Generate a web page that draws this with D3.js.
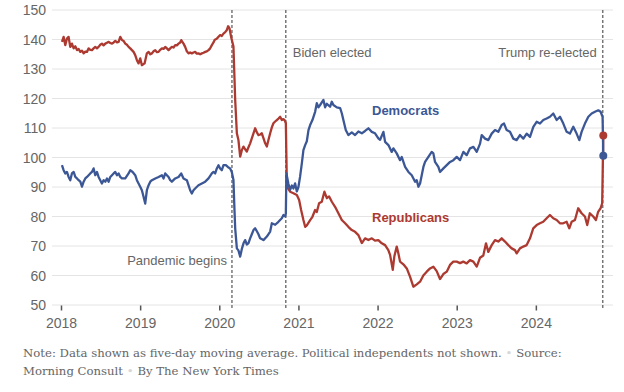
<!DOCTYPE html>
<html>
<head>
<meta charset="utf-8">
<script src="https://cdn.jsdelivr.net/npm/d3@7"></script>
<style>
body { margin: 0; background: #fff; }
</style>
</head>
<body>
<div id="chart"></div>
<script>
// values: [decimal year, index]
const democrats = [
[2018.012,97.4],[2018.033,95.7],[2018.054,94.6],[2018.075,95.1],[2018.096,93.4],[2018.117,92.3],[2018.138,94.6],[2018.160,95.1],
[2018.181,93.4],[2018.202,92.9],[2018.223,92.3],[2018.244,91.8],[2018.265,90.1],[2018.286,91.8],[2018.307,92.9],[2018.328,93.4],
[2018.349,94.0],[2018.370,94.6],[2018.391,95.1],[2018.412,96.3],[2018.433,94.0],[2018.454,95.1],[2018.475,93.4],[2018.496,92.3],
[2018.517,91.2],[2018.538,92.3],[2018.560,91.8],[2018.581,92.9],[2018.602,91.8],[2018.623,93.4],[2018.644,94.0],[2018.665,94.6],
[2018.686,95.1],[2018.707,94.0],[2018.728,94.6],[2018.749,93.4],[2018.770,92.9],[2018.812,92.9],[2018.854,94.6],[2018.875,95.7],
[2018.905,95.1],[2018.938,94.0],[2018.959,92.3],[2018.980,91.2],[2019.001,90.1],[2019.022,88.9],[2019.043,86.7],[2019.064,84.4],
[2019.085,88.9],[2019.107,90.6],[2019.128,91.8],[2019.149,92.3],[2019.191,92.9],[2019.233,93.4],[2019.275,94.0],[2019.296,92.9],
[2019.317,94.6],[2019.359,93.4],[2019.380,92.3],[2019.401,91.8],[2019.443,92.9],[2019.485,93.4],[2019.519,94.6],[2019.548,92.9],
[2019.590,92.3],[2019.611,90.6],[2019.632,88.9],[2019.653,87.8],[2019.674,88.9],[2019.695,89.5],[2019.737,90.6],[2019.780,91.2],
[2019.822,91.8],[2019.864,92.9],[2019.906,94.6],[2019.927,95.1],[2019.948,94.6],[2019.969,96.3],[2019.990,97.4],[2020.011,96.3],
[2020.032,95.7],[2020.053,97.4],[2020.083,97.4],[2020.108,96.8],[2020.137,96.3],[2020.158,95.1],[2020.179,92.4],[2020.192,82.2],
[2020.201,76.0],[2020.222,69.2],[2020.242,68.5],[2020.264,66.4],[2020.285,69.0],[2020.306,70.9],[2020.327,72.0],[2020.348,70.5],
[2020.369,71.0],[2020.390,72.6],[2020.411,74.0],[2020.432,75.4],[2020.453,76.0],[2020.475,75.0],[2020.495,74.0],[2020.516,72.6],
[2020.558,72.0],[2020.601,73.2],[2020.643,74.9],[2020.664,77.7],[2020.706,77.2],[2020.747,78.2],[2020.790,79.4],[2020.811,80.5],
[2020.832,80.0],[2020.841,81.0],[2020.848,94.6],[2020.874,91.0],[2020.895,89.0],[2020.917,90.5],[2020.937,89.5],[2020.958,91.2],
[2020.980,88.5],[2021.000,90.0],[2021.021,93.5],[2021.043,98.0],[2021.063,102.5],[2021.085,104.2],[2021.106,105.5],[2021.127,109.3],
[2021.148,111.0],[2021.177,112.7],[2021.211,115.5],[2021.232,118.4],[2021.253,117.0],[2021.274,117.8],[2021.316,119.5],[2021.337,117.0],
[2021.359,118.2],[2021.400,117.2],[2021.422,118.9],[2021.442,117.8],[2021.485,117.0],[2021.527,116.7],[2021.548,115.0],[2021.568,112.7],
[2021.598,109.3],[2021.631,107.6],[2021.674,108.5],[2021.716,107.6],[2021.758,108.8],[2021.801,108.2],[2021.842,109.0],[2021.884,109.9],
[2021.927,108.7],[2021.968,108.2],[2022.010,106.5],[2022.032,106.0],[2022.074,108.7],[2022.095,105.3],[2022.137,104.2],[2022.179,101.9],
[2022.200,103.1],[2022.242,101.4],[2022.284,99.1],[2022.305,100.2],[2022.348,96.8],[2022.390,95.1],[2022.432,94.0],[2022.453,92.9],
[2022.474,91.8],[2022.495,92.3],[2022.516,90.1],[2022.537,91.2],[2022.558,94.0],[2022.579,96.8],[2022.600,98.5],[2022.642,100.2],
[2022.684,101.9],[2022.705,101.4],[2022.726,98.5],[2022.768,96.8],[2022.789,95.1],[2022.832,96.3],[2022.874,97.4],[2022.916,98.5],
[2022.958,99.1],[2023.000,100.2],[2023.042,99.1],[2023.084,101.9],[2023.126,100.8],[2023.168,103.1],[2023.211,103.6],[2023.253,101.9],
[2023.295,104.7],[2023.316,107.6],[2023.358,106.4],[2023.400,105.9],[2023.442,108.1],[2023.484,109.3],[2023.526,108.7],[2023.568,111.0],
[2023.598,111.5],[2023.631,109.3],[2023.673,108.7],[2023.715,106.4],[2023.757,105.9],[2023.799,107.6],[2023.842,106.4],[2023.884,108.1],
[2023.926,107.0],[2023.968,110.4],[2024.010,112.1],[2024.052,111.5],[2024.094,112.7],[2024.136,113.2],[2024.178,113.8],[2024.220,114.9],
[2024.263,112.7],[2024.305,113.8],[2024.347,111.5],[2024.389,108.7],[2024.431,108.1],[2024.473,110.4],[2024.515,108.1],[2024.549,105.9],
[2024.578,108.7],[2024.620,111.5],[2024.663,113.8],[2024.705,114.9],[2024.747,115.5],[2024.789,116.0],[2024.818,115.5],[2024.843,113.8],
[2024.852,100.6]
]

const republicans = [
[2018.012,139.2],[2018.033,140.9],[2018.054,138.1],[2018.075,140.3],[2018.096,140.9],[2018.117,137.5],[2018.138,138.6],[2018.160,137.0],
[2018.181,137.7],[2018.202,136.4],[2018.223,136.8],[2018.244,135.8],[2018.265,136.2],[2018.286,135.3],[2018.307,135.9],[2018.328,135.8],
[2018.349,137.0],[2018.370,136.5],[2018.391,136.4],[2018.412,137.0],[2018.433,137.5],[2018.454,137.0],[2018.475,137.5],[2018.496,138.2],
[2018.517,138.6],[2018.538,138.0],[2018.560,138.6],[2018.581,138.9],[2018.602,139.2],[2018.623,138.8],[2018.644,138.6],[2018.665,139.0],
[2018.686,139.5],[2018.707,139.0],[2018.728,139.2],[2018.749,140.9],[2018.770,139.8],[2018.791,139.5],[2018.812,138.6],[2018.833,138.2],
[2018.854,137.5],[2018.875,137.0],[2018.896,136.4],[2018.917,135.8],[2018.938,134.7],[2018.959,133.0],[2018.980,131.9],[2019.001,133.6],
[2019.022,131.3],[2019.056,131.9],[2019.085,135.3],[2019.107,135.8],[2019.128,135.0],[2019.149,135.3],[2019.170,136.0],[2019.191,136.4],
[2019.212,135.7],[2019.233,135.8],[2019.254,136.5],[2019.275,137.0],[2019.296,136.8],[2019.317,137.5],[2019.338,137.0],[2019.359,136.4],
[2019.380,137.0],[2019.401,137.5],[2019.422,137.3],[2019.443,138.1],[2019.464,138.0],[2019.485,138.6],[2019.506,139.0],[2019.519,139.8],
[2019.548,138.6],[2019.569,137.5],[2019.590,136.0],[2019.611,135.3],[2019.632,135.6],[2019.653,135.3],[2019.674,135.6],[2019.695,135.8],
[2019.716,135.2],[2019.737,135.3],[2019.758,135.0],[2019.780,135.3],[2019.801,135.5],[2019.822,135.8],[2019.843,136.0],[2019.864,136.4],
[2019.885,137.0],[2019.906,138.1],[2019.927,139.0],[2019.940,139.8],[2019.969,140.3],[2020.011,141.5],[2020.032,141.2],[2020.053,142.0],
[2020.075,142.5],[2020.095,143.2],[2020.112,144.5],[2020.129,143.8],[2020.150,140.8],[2020.159,139.8],[2020.179,137.6],[2020.201,119.5],
[2020.222,108.2],[2020.242,105.9],[2020.264,100.3],[2020.285,102.5],[2020.306,103.7],[2020.327,102.8],[2020.348,102.0],[2020.369,103.5],
[2020.390,104.8],[2020.411,106.5],[2020.432,108.2],[2020.453,109.9],[2020.475,108.5],[2020.495,107.6],[2020.517,107.8],[2020.538,108.2],
[2020.559,106.5],[2020.580,104.8],[2020.601,103.7],[2020.621,105.9],[2020.643,108.2],[2020.664,110.2],[2020.684,111.6],[2020.706,112.2],
[2020.727,112.7],[2020.748,113.2],[2020.769,113.8],[2020.790,112.7],[2020.811,113.0],[2020.825,112.7],[2020.841,111.6],[2020.848,100.3],
[2020.854,90.1],[2020.895,88.4],[2020.937,87.9],[2020.980,87.3],[2021.009,85.6],[2021.034,82.2],[2021.063,78.8],[2021.085,76.5],
[2021.106,77.0],[2021.148,78.8],[2021.177,79.9],[2021.211,82.2],[2021.232,81.5],[2021.261,84.5],[2021.295,85.0],[2021.328,88.4],
[2021.359,86.2],[2021.388,86.8],[2021.422,85.0],[2021.463,83.3],[2021.505,81.1],[2021.548,78.8],[2021.590,77.7],[2021.631,76.5],
[2021.674,75.4],[2021.716,74.8],[2021.758,73.7],[2021.801,71.0],[2021.842,72.6],[2021.884,72.0],[2021.927,72.6],[2021.968,71.8],
[2022.010,72.0],[2022.053,70.9],[2022.095,70.3],[2022.136,68.6],[2022.158,67.0],[2022.192,61.9],[2022.212,66.5],[2022.242,69.8],
[2022.263,67.5],[2022.284,64.7],[2022.326,63.8],[2022.369,62.4],[2022.410,59.6],[2022.452,56.2],[2022.495,57.0],[2022.537,57.9],
[2022.578,60.0],[2022.621,61.3],[2022.663,62.4],[2022.705,63.0],[2022.747,61.5],[2022.789,58.8],[2022.831,60.5],[2022.874,61.3],
[2022.915,63.6],[2022.957,64.7],[2023.000,64.7],[2023.042,64.2],[2023.083,64.7],[2023.126,64.1],[2023.168,65.2],[2023.210,64.7],
[2023.253,63.0],[2023.294,66.0],[2023.336,66.8],[2023.370,70.9],[2023.399,68.0],[2023.442,70.3],[2023.484,72.0],[2023.525,71.5],
[2023.568,72.6],[2023.610,71.5],[2023.652,70.3],[2023.694,69.2],[2023.736,68.6],[2023.758,67.5],[2023.799,69.2],[2023.841,69.8],
[2023.884,70.3],[2023.926,72.6],[2023.967,76.0],[2024.010,77.1],[2024.052,77.7],[2024.093,78.2],[2024.136,79.4],[2024.178,80.5],
[2024.220,79.4],[2024.263,78.8],[2024.304,77.7],[2024.346,77.7],[2024.389,78.2],[2024.422,76.0],[2024.452,78.2],[2024.494,78.8],
[2024.535,82.8],[2024.578,81.1],[2024.620,80.0],[2024.649,77.1],[2024.682,81.1],[2024.725,80.0],[2024.759,78.8],[2024.787,81.6],
[2024.818,82.8],[2024.838,84.5],[2024.852,107.5]
]

const yearTicks = [2018, 2019, 2020, 2021, 2022, 2023, 2024]
const valueTicks = [50, 60, 70, 80, 90, 100, 110, 120, 130, 140, 150]

const events = [
	{date: 2020.16, label: 'Pandemic begins'},
	{date: 2020.84, label: 'Biden elected'},
	{date: 2024.845, label: 'Trump re-elected'}
]

let width = 624, height = 392

let blue = '#3c5795', red = '#ad3a31', grey = '#666'

let svg = d3.select('#chart')
.append('svg')
.attr('width', width)
.attr('height', height)
.style('font-family', 'Liberation Sans, Arial, sans-serif')

let xScale = d3.scaleLinear()
.domain([2018, 2025])
.range([61, 615])

let yScale = d3.scaleLinear()
.domain([50, 150])
.range([305, 10])

// gridlines
svg.append('g')
.selectAll('line')
.data(valueTicks)
.join('line')
.attr('x1', 52)
.attr('x2', 613)
.attr('y1', d => yScale(d))
.attr('y2', d => yScale(d))
.style('stroke', '#e4e4e4')
.style('stroke-width', 1)

svg.append('g')
.selectAll('text')
.data(valueTicks)
.join('text')
.text(d => d)
.attr('x', 46)
.attr('y', d => yScale(d) + 5)
.style('text-anchor', 'end')
.style('font-size', 14)
.style('fill', grey)

// x axis
let xAxis = svg.append('g')
.attr('transform', `translate(0, ${yScale(50) + 0.5})`)
.call(d3.axisBottom(xScale).tickValues(yearTicks).tickFormat(d3.format('d')).tickSize(5).tickPadding(8))

xAxis.select('.domain').remove()
xAxis.selectAll('line').style('stroke', '#555').style('stroke-width', 1.5)
xAxis.selectAll('text').style('font-size', 14).style('fill', grey).style('font-family', 'Liberation Sans, Arial, sans-serif')

// event markers
svg.append('g')
.selectAll('line')
.data(events)
.join('line')
.attr('x1', d => xScale(d.date))
.attr('x2', d => xScale(d.date))
.attr('y1', 10)
.attr('y2', 308)
.style('stroke', '#777')
.style('stroke-width', 1.5)
.style('stroke-dasharray', '3,2')

let line = d3.line()
.x(d => xScale(d[0]))
.y(d => yScale(d[1]))

svg.append('path')
.datum(republicans)
.attr('d', line)
.style('fill', 'none')
.style('stroke', red)
.style('stroke-width', 2.3)
.style('stroke-linejoin', 'round')

svg.append('path')
.datum(democrats)
.attr('d', line)
.style('fill', 'none')
.style('stroke', blue)
.style('stroke-width', 2.3)
.style('stroke-linejoin', 'round')

let ends = [
	{d: republicans[republicans.length - 1], color: red},
	{d: democrats[democrats.length - 1], color: blue}
]

svg.selectAll('.end-dot')
.data(ends)
.join('circle')
.attr('class', 'end-dot')
.attr('cx', e => xScale(e.d[0]))
.attr('cy', e => yScale(e.d[1]))
.attr('r', 4)
.style('fill', e => e.color)

// event labels
svg.append('text')
.text(events[0].label)
.attr('x', xScale(events[0].date) - 5)
.attr('y', 265)
.style('text-anchor', 'end')
.style('font-size', 13)
.style('fill', grey)

svg.append('text')
.text(events[1].label)
.attr('x', xScale(events[1].date) + 7)
.attr('y', 57)
.style('font-size', 13)
.style('fill', grey)

svg.append('text')
.text(events[2].label)
.attr('x', xScale(events[2].date) - 6)
.attr('y', 57)
.style('text-anchor', 'end')
.style('font-size', 13)
.style('fill', grey)

// series labels
svg.append('text')
.text('Democrats')
.attr('x', 372)
.attr('y', 115)
.style('font-size', 13)
.style('font-weight', 'bold')
.style('fill', blue)

svg.append('text')
.text('Republicans')
.attr('x', 372)
.attr('y', 222)
.style('font-size', 13)
.style('font-weight', 'bold')
.style('fill', red)

// footer
let noteFont = 'DejaVu Serif, Georgia, serif'

let note1 = svg.append('text')
.attr('x', 23)
.attr('y', 357)
.style('font-family', noteFont)
.style('font-size', 11.7)
.style('fill', '#666')

note1.append('tspan').text('Note: Data shown as five-day moving average. Political independents not shown.')
note1.append('tspan').text(' \u2022 ').style('fill', '#d8d8d8')
note1.append('tspan').text('Source:')

let note2 = svg.append('text')
.attr('x', 23)
.attr('y', 375)
.style('font-family', noteFont)
.style('font-size', 11.7)
.style('fill', '#666')

note2.append('tspan').text('Morning Consult')
note2.append('tspan').text(' \u2022 ').style('fill', '#d8d8d8')
note2.append('tspan').text('By The New York Times')
</script>
</body>
</html>
